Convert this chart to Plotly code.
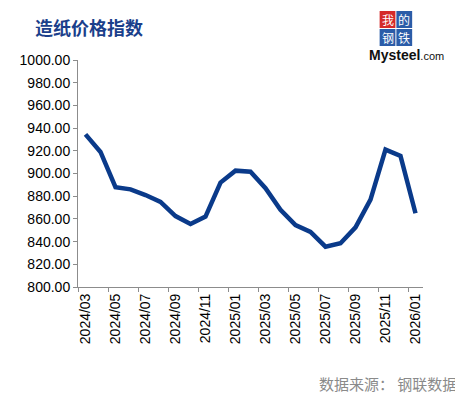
import plotly.graph_objects as go

months = ["2024/03","2024/04","2024/05","2024/06","2024/07","2024/08","2024/09","2024/10",
          "2024/11","2024/12","2025/01","2025/02","2025/03","2025/04","2025/05","2025/06",
          "2025/07","2025/08","2025/09","2025/10","2025/11","2025/12","2026/01"]
values = [934.5, 919.0, 888.0, 886.0, 881.0, 875.0, 862.5, 855.5, 862.0, 892.0, 902.5, 901.5,
          887.0, 868.0, 854.5, 848.5, 835.5, 838.5, 852.5, 877.0, 921.0, 915.5, 865.0]
y_ticks = [800, 820, 840, 860, 880, 900, 920, 940, 960, 980, 1000]

idx = list(range(len(months)))
label_idx = idx[::2]

O = 8  # page body margin
L, R, T, B = 73, 423, 60, 287
W, H = 463, 397
def px(x):
    return (x - L) / (R - L)
def py(y):
    return (B - y) / (B - T)

fig = go.Figure()
fig.add_trace(go.Scatter(x=idx, y=values, mode="lines",
                         line=dict(color="#0A3A8A", width=4.5), hoverinfo="skip",
                         showlegend=False))
fig.add_trace(go.Scatter(x=[idx[0]], y=[values[0]], xaxis="x2", mode="markers",
                         marker=dict(opacity=0), showlegend=False, hoverinfo="skip"))

axis_col = "#8C8C8C"
fig.update_layout(
    width=W - O, height=H - O,
    margin=dict(l=L - O, r=W - R, t=T - O, b=H - B),
    paper_bgcolor="white", plot_bgcolor="white",
    xaxis=dict(range=[-0.5, len(months) - 0.5], tickvals=label_idx,
               ticktext=[months[i] for i in label_idx], tickangle=-90,
               showline=True, linecolor=axis_col, linewidth=1, ticks="",
               showgrid=False, zeroline=False,
               tickfont=dict(family="Liberation Sans, Arial", size=14, color="#000000")),
    xaxis2=dict(range=[-0.5, len(months) - 0.5], overlaying="x", anchor="y",
                tickvals=[i - 0.5 for i in label_idx], ticks="outside", ticklen=4,
                tickcolor=axis_col, showticklabels=False, showgrid=False,
                zeroline=False, showline=False),
    yaxis=dict(range=[800, 1000], tickvals=y_ticks, tickformat=".2f",
               showline=True, linecolor=axis_col, linewidth=1, ticks="outside",
               ticklen=4, tickcolor=axis_col, showgrid=False, zeroline=False,
               tickfont=dict(family="Liberation Sans, Arial", size=14, color="#000000")),
    font=dict(family="Liberation Sans, Arial"),
)

ann = []
ann.append(dict(text="<b>造纸价格指数</b>", x=px(27), y=py(27), xref="paper", yref="paper",
                xanchor="left", yanchor="middle", showarrow=False,
                font=dict(family="Noto Sans CJK SC", size=18, color="#1B3F8B")))
ann.append(dict(text="数据来源： 钢联数据", x=px(460), y=py(383), xref="paper", yref="paper",
                xanchor="right", yanchor="middle", showarrow=False,
                font=dict(family="Noto Sans CJK SC", size=15, color="#8A8A8A")))

# logo
shapes = []
cells = [("我", 379, 11, "#D42A2A"), ("的", 396, 11, "#2B5CA8"),
         ("钢", 379, 29, "#2B5CA8"), ("铁", 396, 29, "#2B5CA8")]
for ch, x0, y0, col in cells:
    shapes.append(dict(type="rect", xref="paper", yref="paper",
                       x0=px(x0), x1=px(x0 + 16), y0=py(y0 + 17), y1=py(y0),
                       fillcolor=col, line=dict(width=0)))
    ann.append(dict(text=ch, x=px(x0 + 8), y=py(y0 + 8.5), xref="paper", yref="paper",
                    showarrow=False, xanchor="center", yanchor="middle",
                    font=dict(family="Noto Sans CJK SC", size=12, color="white")))
ann.append(dict(text="<b>Mysteel</b><span style='font-size:11px'>.com</span>",
                x=px(406), y=py(55), xref="paper", yref="paper", showarrow=False,
                xanchor="center", yanchor="middle",
                font=dict(family="Liberation Sans, Arial", size=14, color="#111111")))

fig.update_layout(annotations=ann, shapes=shapes)
fig.write_html("out.html")
